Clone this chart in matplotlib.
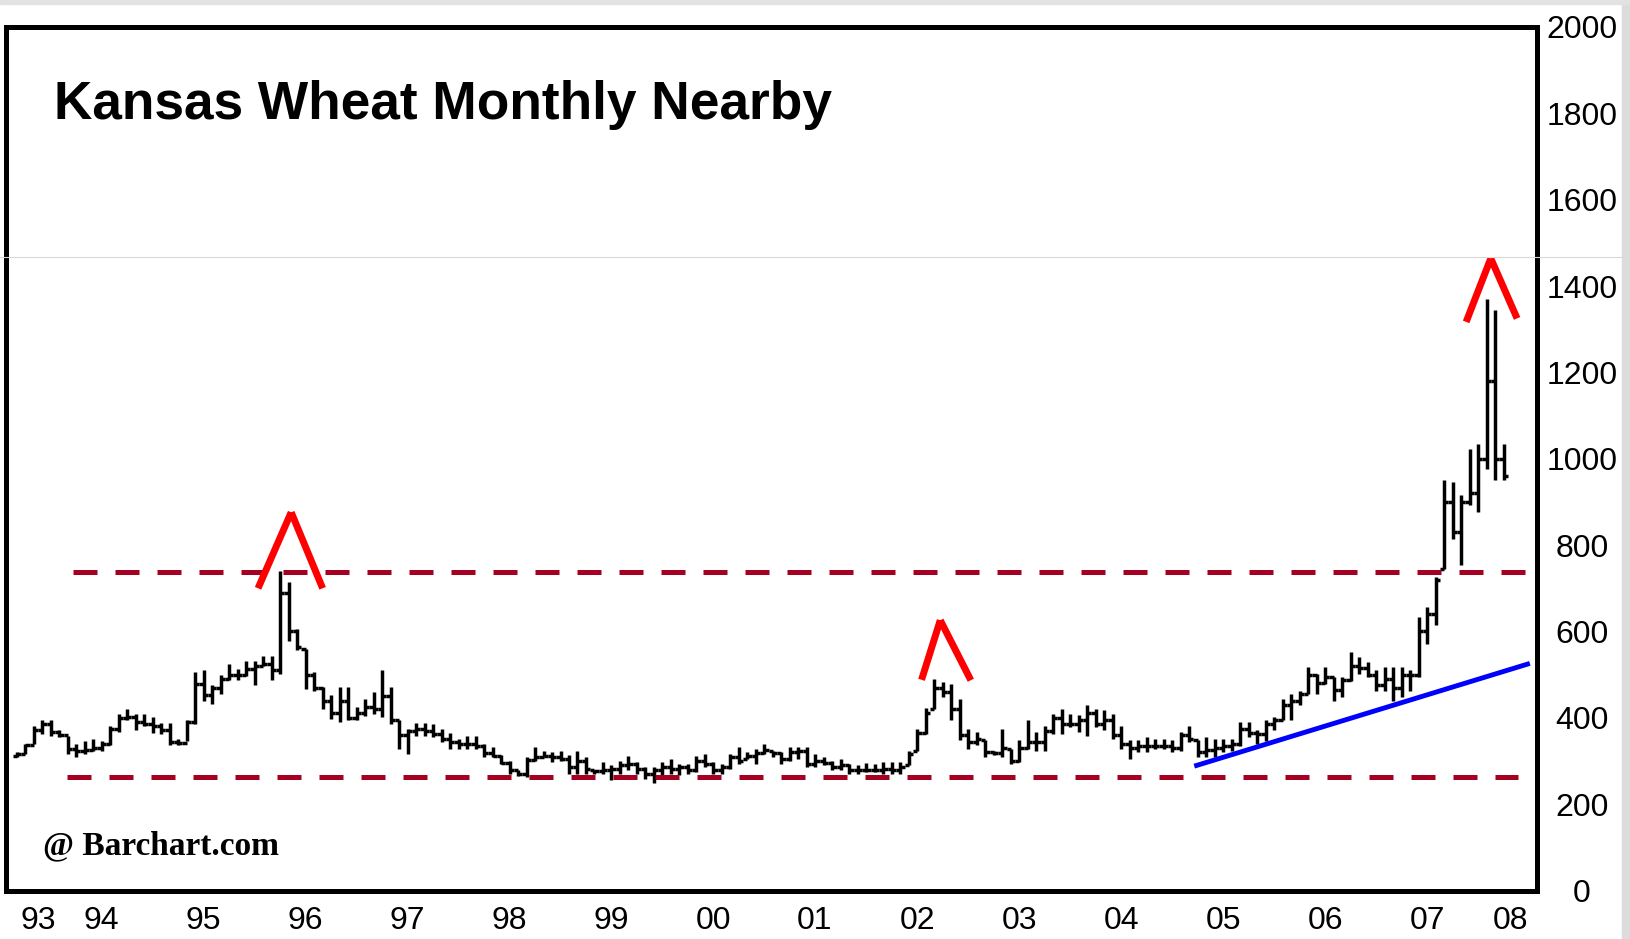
import numpy as np
import matplotlib
matplotlib.use('Agg')
import matplotlib.pyplot as plt
from matplotlib import font_manager as fm
from matplotlib.lines import Line2D
from matplotlib.patches import Rectangle

# Kansas wheat, monthly nearby bars (cents), roughly Aug 1993 -> Apr 2008
highs = [320, 340, 382, 394, 394, 371, 359, 340, 347, 351,
         347, 382, 409, 421, 409, 409, 402, 388, 388, 351,
         394, 506, 510, 475, 498, 524, 514, 531, 531, 544,
         544, 741, 714, 606, 560, 506, 471, 452, 471, 471,
         425, 444, 460, 510, 471, 394, 375, 388, 388, 386,
         375, 365, 351, 359, 359, 340, 332, 313, 301, 280,
         309, 332, 324, 320, 324, 313, 324, 309,
         280, 298, 290, 301, 311, 298, 286, 286, 298, 305,
         294, 294, 311, 317, 298, 292, 317, 332, 321, 328,
         340, 324, 321, 332, 332, 332, 317, 309, 301, 305,
         294, 290, 295, 294, 298, 298, 298, 324, 375, 423,
         491, 483, 479, 444, 375, 367, 348, 324, 375, 328,
         348, 394, 367, 382, 409, 421, 409, 406, 429, 421,
         417, 409, 382, 348, 348, 355, 351, 351, 348, 367,
         382, 348, 355, 351, 351, 351, 390,
         390, 371, 394, 402, 444, 456, 463, 517, 502, 517,
         494, 494, 552, 541, 529, 510, 517, 517, 517, 510,
         633, 656, 726, 950, 946, 915, 1023, 1035, 1371, 1344,
         1035]
lows = [309, 317, 340, 363, 359, 355, 317, 309, 317, 323,
        324, 336, 367, 394, 371, 382, 365, 363, 336, 338,
        347, 386, 440, 432, 454, 488, 488, 496, 475, 519,
        488, 502, 579, 556, 467, 463, 421, 398, 390, 394,
        394, 405, 409, 402, 386, 328, 317, 359, 359, 355,
        344, 328, 328, 328, 328, 309, 309, 293, 270, 266,
        263, 301, 309, 297, 301, 270, 270, 270,
        269, 270, 255, 270, 280, 270, 259, 249, 267, 270,
        267, 270, 274, 286, 270, 269, 282, 294, 305, 294,
        317, 309, 294, 301, 305, 287, 287, 290, 278, 278,
        270, 270, 274, 274, 270, 270, 270, 290, 324, 363,
        421, 448, 394, 348, 328, 336, 309, 313, 309, 294,
        297, 328, 324, 324, 363, 363, 379, 367, 359, 379,
        371, 351, 328, 305, 321, 321, 328, 328, 321, 324,
        344, 309, 309, 309, 321, 324, 335,
        355, 340, 347, 371, 394, 394, 429, 456, 456, 479,
        440, 448, 486, 502, 494, 463, 463, 440, 448, 463,
        494, 571, 614, 745, 815, 753, 892, 877, 977, 950,
        950]
opens = [312, 316, 336, 372, 385, 366, 360, 328, 322, 326,
         330, 340, 375, 400, 402, 390, 386, 380, 372, 345,
         342, 390, 478, 452, 470, 490, 500, 500, 512, 520,
         525, 510, 690, 600, 560, 500, 470, 440, 410, 440,
         400, 410, 425, 420, 450, 394, 360, 370, 375, 370,
         362, 350, 345, 340, 340, 335, 318, 312, 296, 280,
         270, 302, 310, 312, 310, 305, 285, 300,
         280, 276, 280, 282, 290, 292, 282, 270, 278, 285,
         282, 286, 278, 300, 292, 280, 285, 310, 305, 312,
         318, 324, 318, 305, 320, 322, 292, 300, 295, 285,
         290, 280, 278, 280, 280, 282, 280, 290, 324, 365,
         421, 470, 460, 420, 360, 345, 348, 320, 318, 328,
         300, 330, 345, 345, 370, 400, 385, 385, 395, 410,
         385, 395, 360, 340, 330, 335, 335, 335, 335, 330,
         360, 348, 320, 325, 330, 335, 340,
         375, 365, 362, 385, 395, 430, 440, 455, 500, 480,
         495, 465, 488, 520, 515, 500, 475, 490, 470, 500,
         500, 600, 640, 745, 900, 830, 900, 920, 1000, 1180,
         1000]
closes = [316, 336, 372, 385, 366, 360, 328, 322, 326, 330,
          340, 375, 400, 402, 390, 386, 380, 372, 345, 342,
          390, 478, 452, 470, 490, 500, 500, 512, 520, 525,
          510, 690, 600, 565, 500, 470, 440, 410, 440, 400,
          410, 425, 420, 450, 395, 360, 370, 375, 370, 362,
          350, 345, 340, 340, 335, 318, 312, 296, 280, 270,
          302, 310, 312, 310, 305, 285, 300, 282,
          276, 280, 282, 290, 292, 282, 270, 278, 285, 282,
          286, 278, 300, 292, 280, 285, 310, 300, 312, 318,
          325, 318, 305, 320, 322, 292, 300, 295, 285, 290,
          280, 278, 280, 280, 282, 280, 285, 315, 365, 410,
          470, 460, 420, 360, 345, 350, 320, 318, 330, 300,
          330, 345, 345, 370, 400, 385, 385, 395, 410, 385,
          395, 360, 340, 330, 335, 335, 335, 335, 330, 360,
          350, 320, 325, 330, 335, 340, 375,
          365, 362, 385, 395, 430, 440, 455, 500, 480, 495,
          465, 488, 520, 515, 500, 475, 490, 470, 500, 500,
          600, 640, 720, 900, 830, 900, 920, 1000, 1180, 1000,
          960]

year_labels = ['93', '94', '95', '96', '97', '98', '99', '00',
               '01', '02', '03', '04', '05', '06', '07', '08']
y_ticks = [0, 200, 400, 600, 800, 1000, 1200, 1400, 1600, 1800, 2000]

# hand drawn marks on the original (bar index, price)
resistance = 737
support = 263
trend_x = [138.6, 178.1]
trend_y = [288, 526]
peak_marks = [([28.4, 32.3, 36.0], [700, 876, 700]),
              ([106.5, 108.7, 112.3], [488, 626, 487]),
              ([170.6, 173.5, 176.6], [1317, 1464, 1325])]


def font_ok(name):
    try:
        fm.findfont(fm.FontProperties(family=name), fallback_to_default=False)
        return True
    except ValueError:
        return False


# the axis numbers are a narrow font; fall back to Arial metrics, a bit smaller
if font_ok('Liberation Sans Narrow'):
    tick_font, tick_size = 'Liberation Sans Narrow', 26
else:
    tick_font, tick_size = 'Liberation Sans', 23
plt.rcParams['font.family'] = [tick_font, 'DejaVu Sans']

W, H = 1631, 939
fig = plt.figure(figsize=(W / 100, H / 100), dpi=100)
fig.patch.set_facecolor('white')
ax = fig.add_axes([6.5 / W, 1 - 890.5 / H, 1531 / W, 863.5 / H])

x = np.arange(len(highs))
bar_lw = 2.5
ax.vlines(x, lows, highs, color='black', lw=bar_lw)
ax.hlines(opens, x - 0.5, x, color='black', lw=bar_lw)
ax.hlines(closes, x, x + 0.5, color='black', lw=bar_lw)

dash_red = '#a50021'
ax.plot([6.6, 177.5], [resistance, resistance], color=dash_red, lw=3.6,
        dashes=(4.8, 3.6), dash_capstyle='butt')
ax.plot([5.9, 176.7], [support, support], color=dash_red, lw=3.6,
        dashes=(4.8, 3.6), dash_capstyle='butt')
ax.plot(trend_x, trend_y, color='#0000ff', lw=3.5, solid_capstyle='butt')
for px, py in peak_marks:
    ax.plot(px[:2], py[:2], color='#ff0000', lw=5, solid_capstyle='butt')
    ax.plot(px[1:], py[1:], color='#ff0000', lw=5, solid_capstyle='butt')

ax.set_xlim(-1.21, 179.0)
ax.set_ylim(0, 2000)

year_pos = [2.55, 10.0, 22.0, 34.0, 46.0, 58.0, 70.0, 82.0, 93.9,
            106.0, 118.0, 130.0, 142.0, 154.0, 166.0, 175.8]
ax.set_xticks(year_pos)
ax.set_xticklabels(year_labels)
ax.tick_params(axis='x', length=0, pad=22.3, labelsize=tick_size)
for lbl in ax.get_xticklabels():
    lbl.set_verticalalignment('center')

ax.yaxis.tick_right()
ax.set_yticks(y_ticks)
ax.set_yticklabels([str(v) for v in y_ticks])
ax.tick_params(axis='y', length=0, pad=32, labelsize=tick_size)
for lbl in ax.get_yticklabels():
    lbl.set_horizontalalignment('center')

for s in ax.spines.values():
    s.set_linewidth(3.6)
    s.set_color('black')

fig.text(54 / W, 1 - 119 / H, 'Kansas Wheat Monthly Nearby', fontsize=38.3,
         fontweight='bold', family='Liberation Sans', va='baseline')
fig.text(43 / W, 1 - 854 / H, '@ Barchart.com', fontsize=24, fontweight='bold',
         family='Liberation Serif', va='baseline')

# screenshot leftovers: faint rule and grey border
fig.add_artist(Line2D([0, 1622 / W], [1 - 257 / H, 1 - 257 / H],
                      transform=fig.transFigure, color='#d8d8d8', lw=0.8))
fig.add_artist(Rectangle((1622 / W, 0), 9 / W, 1, transform=fig.transFigure,
                         color='#dcdcdc', zorder=0))
fig.add_artist(Rectangle((0, 1 - 4 / H), 1, 4 / H, transform=fig.transFigure,
                         color='#e2e2e2', zorder=0))

fig.savefig('out.png', dpi=100)
